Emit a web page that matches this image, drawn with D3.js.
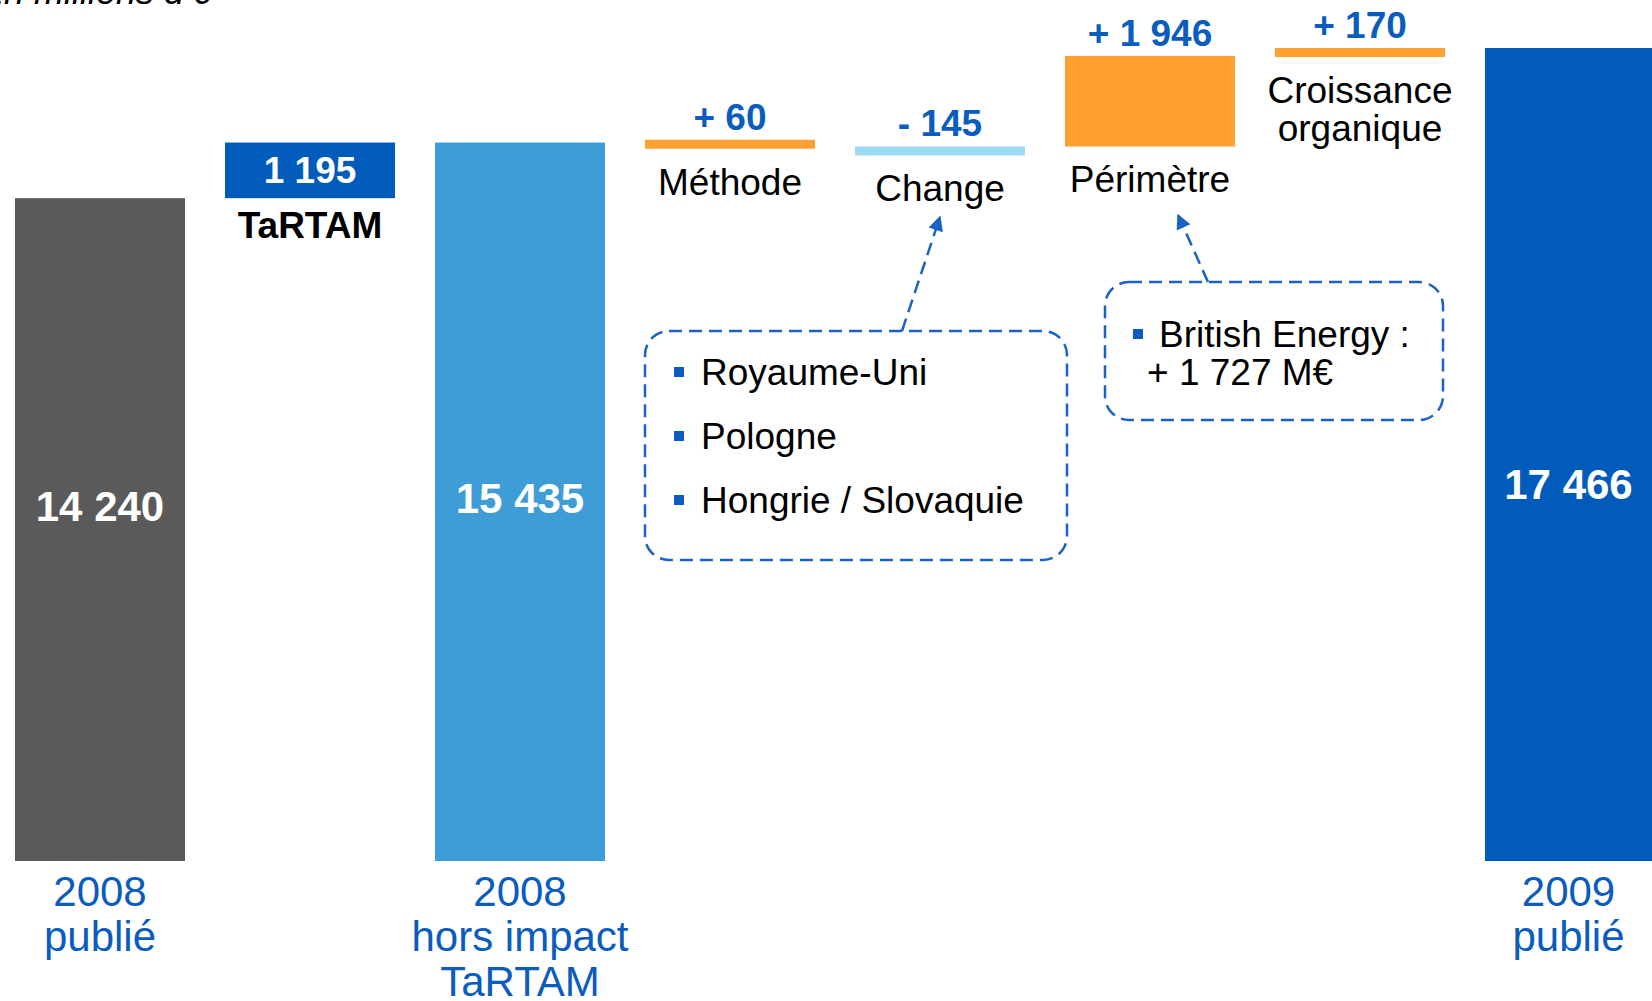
<!DOCTYPE html>
<html>
<head>
<meta charset="utf-8">
<script src="https://cdn.jsdelivr.net/npm/d3@7"></script>
<style>
  body { margin: 0; background: #ffffff; }
  svg { display: block; font-family: "Liberation Sans", Arial, sans-serif; }
</style>
</head>
<body>
<div id="chart"></div>
<script>
// Waterfall of revenue, 2008 -> 2009 (millions d'€)
var categories = ["2008 publié", "TaRTAM", "2008 hors impact TaRTAM", "Méthode", "Change", "Périmètre", "Croissance organique", "2009 publié"];
var kinds = ["total", "delta", "total", "delta", "delta", "delta", "delta", "total"];
var values = [14240, 1195, 15435, 60, -145, 1946, 170, 17466];
var valueLabels = ["14 240", "1 195", "15 435", "+ 60", "- 145", "+ 1 946", "+ 170", "17 466"];
var topLabels = [[], ["TaRTAM"], [], ["Méthode"], ["Change"], ["Périmètre"], ["Croissance", "organique"], []];
var bottomLabels = [["2008", "publié"], [], ["2008", "hors impact", "TaRTAM"], [], [], [], [], ["2009", "publié"]];
var changeItems = ["Royaume-Uni", "Pologne", "Hongrie / Slovaquie"];
var perimetreItems = ["British Energy :", "+ 1 727 M€"];

var W = 1652, H = 1001;
var BLUE = "#005bbb", TXTBLUE = "#0a5cbf", DASH = "#1a63c4";
var fills = ["#5a5a5a", BLUE, "#3e9cd6", "#ffa030", "#9fdaf5", "#ffa030", "#ffa030", BLUE];

var svg = d3.select("#chart").append("svg")
    .attr("width", W)
    .attr("height", H);

var x = d3.scaleBand()
    .domain(categories)
    .range([15, 1655])
    .paddingInner(40 / 210)
    .paddingOuter(0);

var y = d3.scaleLinear()
    .domain([0, 17466])
    .range([861, 48]);

// build the running levels
var level = 0;
var rows = categories.map(function(c, i) {
    var start, end;
    if (kinds[i] == "total") { start = 0; end = values[i]; level = values[i]; }
    else { start = level; end = level + values[i]; level = end; }
    return {cat: c, i: i, kind: kinds[i], start: start, end: end};
});

// small steps are drawn as a thin band hanging from their end level
var minThick = 9;
rows.forEach(function(d) {
    var lo = Math.min(d.start, d.end), hi = Math.max(d.start, d.end);
    d.y0 = y(hi);
    d.y1 = y(lo);
    if (d.y1 - d.y0 < minThick) { d.y0 = y(d.end); d.y1 = d.y0 + minThick; }
    var left = x(d.cat), right = Math.min(W, left + x.bandwidth());
    d.cx = (left + right) / 2;
});

// unit caption, cut at the top like the slide
svg.append("text")
    .attr("x", 211).attr("y", 4)
    .attr("text-anchor", "end")
    .style("font-size", "36px")
    .style("font-style", "italic")
    .attr("fill", "#000")
    .text("En millions d'€");

// bars
svg.append("g").selectAll("rect")
    .data(rows)
    .enter().append("rect")
    .attr("x", function(d) { return x(d.cat); })
    .attr("y", function(d) { return d.y0; })
    .attr("width", x.bandwidth())
    .attr("height", function(d) { return d.y1 - d.y0; })
    .attr("fill", function(d) { return fills[d.i]; });

// values inside the totals (placed a little lower than mid-height)
svg.append("g").selectAll("text")
    .data(rows.filter(function(d) { return d.kind == "total"; }))
    .enter().append("text")
    .attr("x", function(d) { return d.cx; })
    .attr("y", function(d) { return y(d.end * 0.15 + 5164); })
    .attr("text-anchor", "middle")
    .style("font-size", "42px")
    .style("font-weight", "bold")
    .attr("fill", "#fff")
    .text(function(d) { return valueLabels[d.i]; });

// TaRTAM value inside its box, others above the step
var deltas = rows.filter(function(d) { return d.kind == "delta"; });
svg.append("g").selectAll("text")
    .data(deltas)
    .enter().append("text")
    .attr("x", function(d) { return d.cx; })
    .attr("y", function(d) { return d.i == 1 ? (d.y0 + d.y1) / 2 + 13 : d.y0 - 10; })
    .attr("text-anchor", "middle")
    .style("font-size", "37px")
    .style("font-weight", "bold")
    .attr("fill", function(d) { return d.i == 1 ? "#fff" : TXTBLUE; })
    .text(function(d) { return valueLabels[d.i]; });

// step names below the step
deltas.forEach(function(d) {
    topLabels[d.i].forEach(function(t, k) {
        svg.append("text")
            .attr("x", d.cx)
            .attr("y", d.y1 + (d.i == 1 ? 40 : 46) + k * 38)
            .attr("text-anchor", "middle")
            .style("font-size", "37px")
            .style("font-weight", d.i == 1 ? "bold" : "normal")
            .attr("fill", "#000")
            .text(t);
    });
});

// labels under the totals
rows.forEach(function(d) {
    bottomLabels[d.i].forEach(function(t, k) {
        svg.append("text")
            .attr("x", d.cx)
            .attr("y", y(0) + 45 + k * 45)
            .attr("text-anchor", "middle")
            .style("font-size", "42px")
            .attr("fill", TXTBLUE)
            .text(t);
    });
});

// arrow marker
svg.append("defs").append("marker")
    .attr("id", "head")
    .attr("viewBox", "0 0 10 10")
    .attr("refX", 9).attr("refY", 5)
    .attr("markerWidth", 7).attr("markerHeight", 6)
    .attr("markerUnits", "strokeWidth")
    .attr("orient", "auto")
    .append("path")
    .attr("d", "M0,0 L10,5 L0,10 Z")
    .attr("fill", DASH);

function callout(x0, y0, w, h, items, bulletEach, firstBase, lineGap, xs, fromX, toX, toY) {
    svg.append("rect")
        .attr("x", x0).attr("y", y0)
        .attr("width", w).attr("height", h)
        .attr("rx", 24).attr("ry", 24)
        .attr("fill", "none")
        .attr("stroke", DASH)
        .attr("stroke-width", 2.5)
        .attr("stroke-dasharray", "13,7");
    svg.append("line")
        .attr("x1", fromX).attr("y1", y0)
        .attr("x2", toX).attr("y2", toY)
        .attr("stroke", DASH)
        .attr("stroke-width", 2.5)
        .attr("stroke-dasharray", "13,7")
        .attr("marker-end", "url(#head)");
    items.forEach(function(t, k) {
        var by = firstBase + k * lineGap;
        var bullet = bulletEach || k == 0;
        if (bullet) {
            svg.append("rect")
                .attr("x", xs[0]).attr("y", by - 18)
                .attr("width", 10).attr("height", 10)
                .attr("fill", TXTBLUE);
        }
        svg.append("text")
            .attr("x", bullet ? xs[1] : xs[2])
            .attr("y", by)
            .style("font-size", "37px")
            .attr("fill", "#000")
            .text(t);
    });
}

// Change: country list
callout(x("Méthode"), 331, x("Périmètre") + 2 - x("Méthode"), 229,
    changeItems, true, 385, 64, [674, 701], 902, 940, 217);

// Périmètre: acquisition detail
callout(x("Périmètre") + 40, 282, x("Croissance organique") + 168 - x("Périmètre") - 40, 138,
    perimetreItems, false, 347, 38, [1133, 1159, 1147], 1208, 1178, 215);
</script>
</body>
</html>
